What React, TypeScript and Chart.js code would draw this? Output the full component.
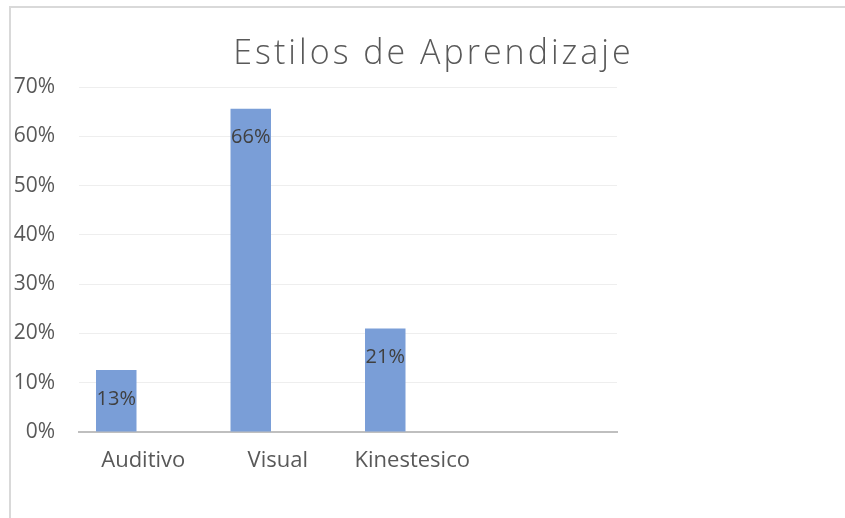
import React, { useEffect, useRef } from "react";
import { Chart, registerables } from "chart.js";

Chart.register(...registerables);

const TITLE = "Estilos de Aprendizaje";
const categories = ["Auditivo", "Visual", "Kinestesico", ""];
const values = [0.126, 0.656, 0.21, null];
const emptySeries = [null, null, null, null];
const yTicks = [0, 0.1, 0.2, 0.3, 0.4, 0.5, 0.6, 0.7];

const FONT = "'Open Sans', 'DejaVu Sans', sans-serif";
const W = 845;
const H = 518;

const titlePlugin = {
  id: "customTitle",
  afterDraw(chart: any) {
    const ctx = chart.ctx;
    ctx.save();
    ctx.font = `300 34px ${FONT}`;
    try {
      (ctx as any).letterSpacing = "3px";
    } catch (e) {}
    ctx.fillStyle = "#595959";
    ctx.textAlign = "center";
    ctx.textBaseline = "middle";
    ctx.fillText(TITLE, 433.5, 54);
    ctx.restore();
  },
};

const labelPlugin = {
  id: "barLabels",
  afterDatasetsDraw(chart: any) {
    const ctx = chart.ctx;
    const meta = chart.getDatasetMeta(0);
    ctx.save();
    ctx.font = `20px ${FONT}`;
    ctx.fillStyle = "#404040";
    ctx.textAlign = "center";
    ctx.textBaseline = "middle";
    meta.data.forEach((el: any, i: number) => {
      const v = values[i];
      if (v == null) return;
      ctx.fillText(Math.round(v * 100) + "%", el.x, el.y + 29);
    });
    ctx.restore();
  },
};

export default function App() {
  const ref = useRef<HTMLCanvasElement | null>(null);
  useEffect(() => {
    if (!ref.current) return;
    const chart = new Chart(ref.current, {
      type: "bar",
      data: {
        labels: categories,
        datasets: [
          {
            data: values as any,
            backgroundColor: "#7a9ed7",
            borderWidth: 0,
            categoryPercentage: 0.892,
            barPercentage: 0.675,
          },
          {
            data: emptySeries as any,
            backgroundColor: "#e07b39",
            categoryPercentage: 0.892,
            barPercentage: 0.675,
          },
        ],
      },
      options: {
        responsive: false,
        animation: false,
        devicePixelRatio: 1,
        layout: { padding: { top: 87, right: 228, bottom: 0, left: 0 } },
        plugins: {
          legend: { display: false },
          title: { display: false },
          tooltip: { enabled: false },
        },
        scales: {
          x: {
            grid: { display: false, drawTicks: false },
            border: { display: true, color: "#bfbfbf", width: 2 },
            ticks: {
              color: "#595959",
              font: { family: FONT, size: 22 },
              padding: 16,
              labelOffset: -3,
              maxRotation: 0,
              autoSkip: false,
            },
            afterFit(scale: any) {
              scale.height = 86;
            },
          },
          y: {
            min: 0,
            max: 0.7,
            afterBuildTicks(scale: any) {
              scale.ticks = yTicks.map((v) => ({ value: v }));
            },
            grid: {
              color: (c: any) => (c.tick && c.tick.value === 0 ? "rgba(0,0,0,0)" : "#eeeeee"),
              lineWidth: 1,
              drawTicks: false,
            },
            border: { display: false },
            ticks: {
              color: "#595959",
              font: { family: FONT, size: 21 },
              padding: 24,
              callback: (v: any) => Math.round(Number(v) * 100) + "%",
            },
            afterFit(scale: any) {
              scale.width = 79;
            },
          },
        },
      },
      plugins: [titlePlugin, labelPlugin],
    });
    return () => chart.destroy();
  }, []);

  return (
    <div
      style={{
        position: "absolute",
        left: 0,
        top: 0,
        width: W,
        height: H,
        overflow: "hidden",
        background: "#ffffff",
      }}
    >
      <div
        style={{
          position: "absolute",
          left: 9,
          top: 6,
          width: 1000,
          height: 1000,
          borderLeft: "2px solid #d9d9d9",
          borderTop: "2px solid #d9d9d9",
        }}
      />
      <canvas
        ref={ref}
        width={W}
        height={H}
        style={{ position: "absolute", left: 0, top: 0, width: W, height: H }}
      />
    </div>
  );
}
